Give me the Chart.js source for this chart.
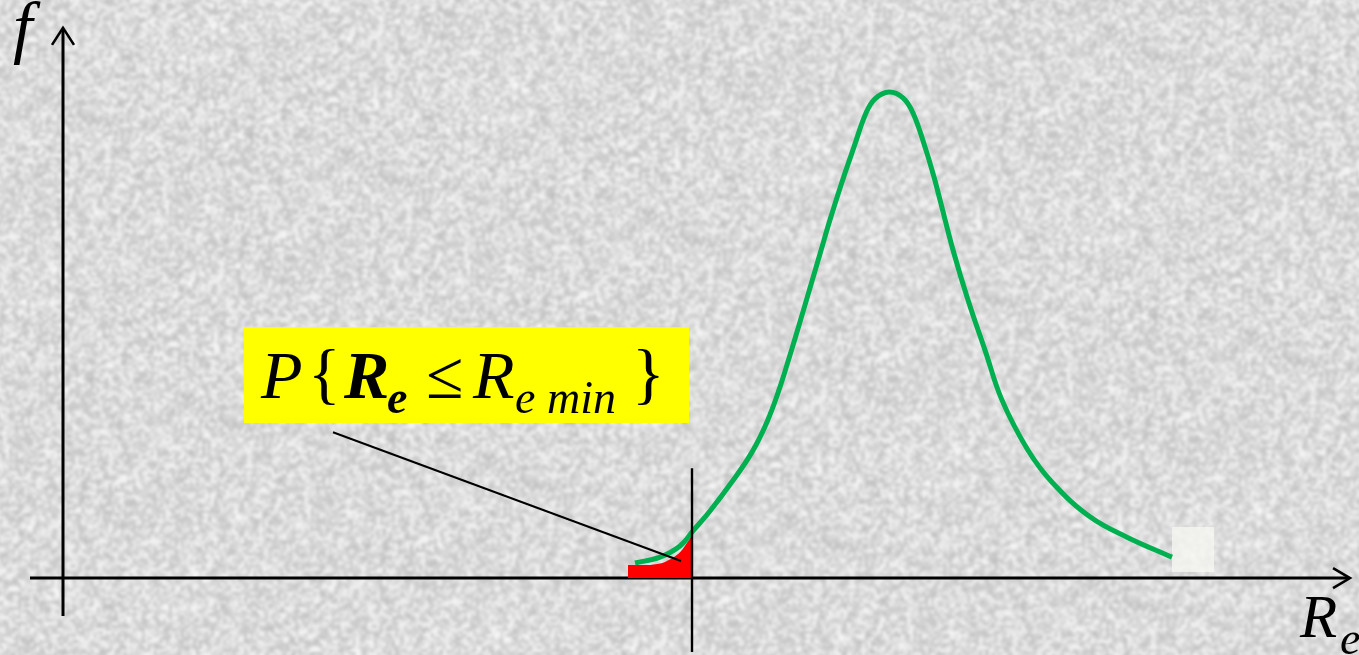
<!DOCTYPE html>
<html>
<head>
<meta charset="utf-8">
<script src="https://cdn.jsdelivr.net/npm/chart.js@4.4.1/dist/chart.umd.min.js"></script>
<style>
  html, body { margin: 0; padding: 0; background: #dcdcdc; }
  #wrap { width: 1359px; height: 655px; position: relative; }
</style>
</head>
<body>
<div id="wrap"><canvas id="c" width="1359" height="655"></canvas></div>
<script>
// Density curve f(R_e) — yield strength R_e on x, probability density f on y
const curveRe = [57.2, 59.7, 61.7, 63.0, 64.7, 66.9, 68.9, 70.4, 71.6, 72.7, 73.7, 74.7, 75.7, 76.7, 77.9, 79.1, 80.3, 81.2, 82.6, 84.0, 85.0, 86.2, 87.1, 87.7, 89.0, 90.5, 92.2, 93.9, 96.5, 99.0, 102.7, 106.4, 110.9];
const curveF  = [0.031, 0.043, 0.066, 0.097, 0.138, 0.198, 0.259, 0.321, 0.387, 0.459, 0.527, 0.597, 0.667, 0.737, 0.815, 0.887, 0.957, 0.986, 1.000, 0.988, 0.957, 0.887, 0.825, 0.778, 0.675, 0.572, 0.469, 0.366, 0.263, 0.195, 0.126, 0.084, 0.043];

// Shaded tail: P{ R_e <= R_e min }
const tailRe = [56.5, 58.7, 60.2, 61.7, 62.9];
const tailF  = [0.027, 0.027, 0.033, 0.053, 0.088];

// Limit value R_e min (vertical marker) and its extent on f
const reMin = 62.9;
const reMinSpan = [0.226, -0.152];

// Leader line from the label to the shaded tail
const leaderRe = [27.0, 61.8];
const leaderF  = [0.300, 0.035];

// Axis extents (value units)
const xAxisSpan = [-3.3, 128.7];
const yAxisSpan = [-0.078, 1.132];

const SERIF = '"Liberation Serif", "Times New Roman", Times, "DejaVu Serif", serif';

const pts = (xs, ys) => xs.map((x, i) => ({ x, y: ys[i] }));

// Granite-like paper texture, seeded so every render is the same
function makeTexture(w, h) {
  const base = document.createElement('canvas');
  const cell = 3;
  const bw = Math.ceil(w / cell), bh = Math.ceil(h / cell);
  base.width = bw; base.height = bh;
  const bctx = base.getContext('2d');
  const img = bctx.createImageData(bw, bh);
  let s = 1234567;
  const rnd = () => { s = (s * 1103515245 + 12345) & 0x7fffffff; return s / 0x7fffffff; };
  for (let i = 0; i < bw * bh; i++) {
    const r = rnd();
    let v = 219 + (r - 0.5) * 64;
    if (r < 0.14) v = 188 + rnd() * 16;
    v = Math.max(175, Math.min(248, v));
    img.data[i * 4] = v; img.data[i * 4 + 1] = v; img.data[i * 4 + 2] = v + 1; img.data[i * 4 + 3] = 255;
  }
  bctx.putImageData(img, 0, 0);
  const out = document.createElement('canvas');
  out.width = w; out.height = h;
  const octx = out.getContext('2d');
  octx.filter = 'blur(1.8px)';
  octx.imageSmoothingEnabled = true;
  octx.drawImage(base, -3, -3, w + 6, h + 6);
  return out;
}

const texture = makeTexture(1359, 655);

const backdrop = {
  id: 'backdrop',
  beforeDraw(chart) {
    chart.ctx.drawImage(texture, 0, 0);
  }
};

function arrowHead(ctx, tipX, tipY, ax, ay, bx, by) {
  ctx.beginPath();
  ctx.moveTo(ax, ay); ctx.lineTo(tipX, tipY); ctx.lineTo(bx, by);
  ctx.stroke();
}

const axesAndLabels = {
  id: 'axesAndLabels',
  beforeDatasetsDraw(chart) {
    const { ctx, scales: { x, y } } = chart;
    const x0 = x.getPixelForValue(0), y0 = y.getPixelForValue(0);
    const xa = x.getPixelForValue(xAxisSpan[0]), xb = x.getPixelForValue(xAxisSpan[1]);
    const ya = y.getPixelForValue(yAxisSpan[0]), yb = y.getPixelForValue(yAxisSpan[1]);
    ctx.save();
    ctx.strokeStyle = '#000';
    ctx.lineWidth = 3;
    ctx.lineCap = 'butt';
    ctx.beginPath();
    ctx.moveTo(xa, y0); ctx.lineTo(xb - 1, y0);
    ctx.moveTo(x0, ya); ctx.lineTo(x0, yb + 1);
    ctx.stroke();
    ctx.lineWidth = 2.6;
    ctx.lineJoin = 'miter';
    arrowHead(ctx, xb, y0, xb - 17, y0 - 10, xb - 17, y0 + 10);
    arrowHead(ctx, x0, yb, x0 - 11, yb + 17, x0 + 11, yb + 17);

    // pale patch at the end of the curve
    ctx.fillStyle = 'rgba(246,246,242,0.8)';
    ctx.fillRect(x.getPixelForValue(110.9), y.getPixelForValue(0.105), 42, 45);

    ctx.fillStyle = '#000';
    ctx.textBaseline = 'alphabetic';
    ctx.font = 'italic 70px ' + SERIF;
    ctx.fillText('f', x0 - 50, 50);
    ctx.font = 'italic 61px ' + SERIF;
    ctx.fillText('R', xb - 50, 637);
    ctx.font = 'italic 46px ' + SERIF;
    ctx.fillText('e', xb - 10, 654);
    ctx.restore();
  },
  afterDatasetsDraw(chart) {
    const { ctx, scales: { x, y } } = chart;
    // label box
    const bx0 = x.getPixelForValue(18.1), bx1 = x.getPixelForValue(62.6);
    const by0 = y.getPixelForValue(0.516), by1 = y.getPixelForValue(0.319);
    ctx.save();
    ctx.fillStyle = '#ffff00';
    ctx.fillRect(bx0, by0, bx1 - bx0, by1 - by0);
    ctx.fillStyle = '#000';
    ctx.textBaseline = 'alphabetic';
    const base = by0 + 71, sub = base + 15;
    ctx.font = 'italic 68px ' + SERIF;
    ctx.fillText('P', bx0 + 17, base);
    ctx.font = '68px ' + SERIF;
    ctx.fillText('{', bx0 + 64, base - 2);
    ctx.font = 'italic bold 68px ' + SERIF;
    ctx.fillText('R', bx0 + 100, base);
    ctx.font = 'italic bold 46px ' + SERIF;
    ctx.fillText('e', bx0 + 143, sub);
    ctx.font = '68px ' + SERIF;
    ctx.fillText('\u2264', bx0 + 182, base);
    ctx.font = 'italic 68px ' + SERIF;
    ctx.fillText('R', bx0 + 229, base);
    ctx.font = 'italic 46px ' + SERIF;
    ctx.fillText('e min', bx0 + 271, sub);
    ctx.font = '68px ' + SERIF;
    ctx.fillText('}', bx0 + 388, base - 2);
    ctx.restore();
  }
};

function build() {
  new Chart(document.getElementById('c'), {
    type: 'line',
    data: {
      datasets: [
        {
          label: 'P{Re ≤ Re min}',
          data: pts(tailRe, tailF),
          borderWidth: 0,
          borderColor: 'rgba(0,0,0,0)',
          backgroundColor: '#ff0000',
          fill: 'origin',
          pointRadius: 0,
          tension: 0.3,
          order: 3
        },
        {
          label: 'f(Re)',
          data: pts(curveRe, curveF),
          borderColor: '#00b050',
          borderWidth: 5,
          fill: false,
          pointRadius: 0,
          tension: 0.4,
          order: 2
        },
        {
          label: 'Re min',
          data: [{ x: reMin, y: reMinSpan[0] }, { x: reMin, y: reMinSpan[1] }],
          borderColor: '#000',
          borderWidth: 2.4,
          fill: false,
          pointRadius: 0,
          order: 1
        },
        {
          label: 'leader',
          data: pts(leaderRe, leaderF),
          borderColor: '#000',
          borderWidth: 2,
          fill: false,
          pointRadius: 0,
          order: 0
        }
      ]
    },
    options: {
      responsive: false,
      animation: false,
      devicePixelRatio: 1,
      layout: { padding: 0 },
      plugins: { legend: { display: false }, tooltip: { enabled: false } },
      scales: {
        x: { type: 'linear', min: -6.3, max: 129.6, display: false },
        y: { type: 'linear', min: -0.1584, max: 1.1893, display: false }
      }
    },
    plugins: [backdrop, axesAndLabels]
  });
}

Promise.all([
  document.fonts.load('italic 68px "Liberation Serif"'),
  document.fonts.load('italic bold 68px "Liberation Serif"'),
  document.fonts.load('68px "Liberation Serif"')
]).then(build, build);
</script>
</body>
</html>
